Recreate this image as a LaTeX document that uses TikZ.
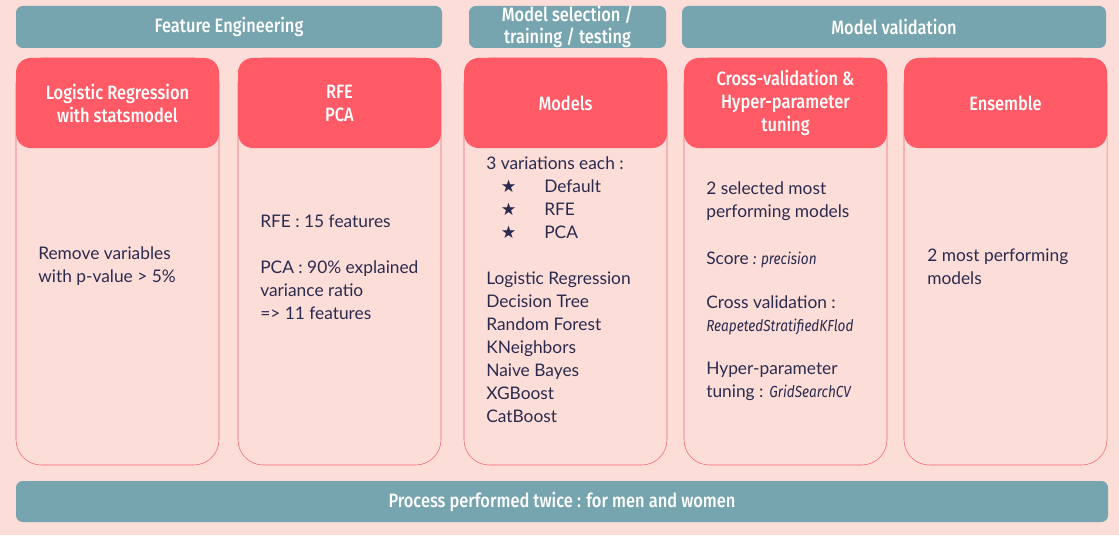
\documentclass[tikz,border=0pt]{standalone}
\usepackage{fontspec}
\setmainfont{Lato}
\newfontfamily\headfont[FakeStretch=0.85, BoldFont={* Medium}]{Fira Sans}
\newfontfamily\symfont{DejaVu Sans}
\usetikzlibrary{positioning}

\definecolor{bgpink}{HTML}{FDDDD8}
\definecolor{barteal}{HTML}{76A5AF}
\definecolor{headred}{HTML}{FF5A65}
\definecolor{cardline}{HTML}{EE6470}
\definecolor{inkblue}{HTML}{2A2A4E}

\newcommand{\stitem}[1]{\hspace*{11pt}\makebox[32.5pt][l]{\symfont\fontsize{13}{12}\selectfont ★}#1}
\newcommand{\codename}[1]{{\headfont\itshape\fontsize{12}{15}\selectfont #1}}

\begin{document}
\begin{tikzpicture}[x=0.75pt, y=-0.75pt,
  bar/.style = {fill=barteal, rounded corners=5pt, inner sep=0pt, text=white, align=center, minimum height=31.5pt, font=\headfont\bfseries\fontsize{14.5}{16.5}\selectfont},
  head/.style = {fill=headred, rounded corners=11pt, minimum width=152.25pt, minimum height=67.5pt, inner sep=0pt, text=white, align=center, font=\headfont\bfseries\fontsize{14.5}{17.25}\selectfont},
  card/.style = {draw=cardline, fill=bgpink, rounded corners=19pt, minimum width=152.25pt, minimum height=305.25pt, inner sep=0pt},
  body/.style = {anchor=west, align=left, inner sep=0pt, text=inkblue, font=\fontsize{13}{17.25}\selectfont}]

  \fill[bgpink] (0,0) rectangle (1119,535);
  \useasboundingbox (0,0) rectangle (1119,535);

  % Stage bars
  \node[bar, minimum width=319.5pt] (feat_bar) at (229,27) {Feature Engineering};
  \node[bar, minimum width=147.75pt] (sel_bar) at (567.5,27) {Model selection /\\training / testing};
  \node[bar, minimum width=318pt] (val_bar) at (894,27) {Model validation};

  % Cards
  \node[card] (logreg_card) at (117.5,261.5) {};
  \node[card] (rfe_card) at (339.5,261.5) {};
  \node[card] (models_card) at (565.5,261.5) {};
  \node[card] (cv_card) at (785.5,261.5) {};
  \node[card] (ens_card) at (1005.5,261.5) {};

  % Card headers
  \node[head] (logreg_head) at (117.5,103) {Logistic Regression\\with statsmodel};
  \node[head] (rfe_head) at (339.5,103) {RFE\\PCA};
  \node[head] (models_head) at (565.5,103) {Models};
  \node[head] (cv_head) at (785.5,103) {Cross-validation \&\\Hyper-parameter\\tuning};
  \node[head] (ens_head) at (1005.5,103) {Ensemble};

  % Card contents
  \node[body] (logreg_txt) at (38,266.5) {Remove variables\\with p-value > 5\%};
  \node[body] (rfe_txt) at (260,267) {RFE : 15 features\\[17.25pt]PCA : 90\% explained\\variance ratio\\=> 11 features};
  \node[body] (models_txt) at (486,290) {3 variations each :\\\stitem{Default}\\\stitem{RFE}\\\stitem{PCA}\\[17.25pt]Logistic Regression\\Decision Tree\\Random Forest\\KNeighbors\\Naive Bayes\\XGBoost\\CatBoost};
  \node[body] (sel_txt) at (706,201.5) {2 selected most\\performing models};
  \node[body] (score_txt) at (706,260) {Score \codename{: precision}};
  \node[body] (cvscheme_txt) at (706,315.5) {Cross validation :\\\codename{ReapetedStratifiedKFlod}};
  \node[body] (tuning_txt) at (706,381.5) {Hyper-parameter\\tuning : \codename{GridSearchCV}};
  \node[body] (ens_txt) at (927,266.5) {2 most performing\\models};

  % Footer
  \node[bar, minimum width=819pt, minimum height=30.75pt] (twice_bar) at (562,501.5) {Process performed twice : for men and women};

\end{tikzpicture}
\end{document}
